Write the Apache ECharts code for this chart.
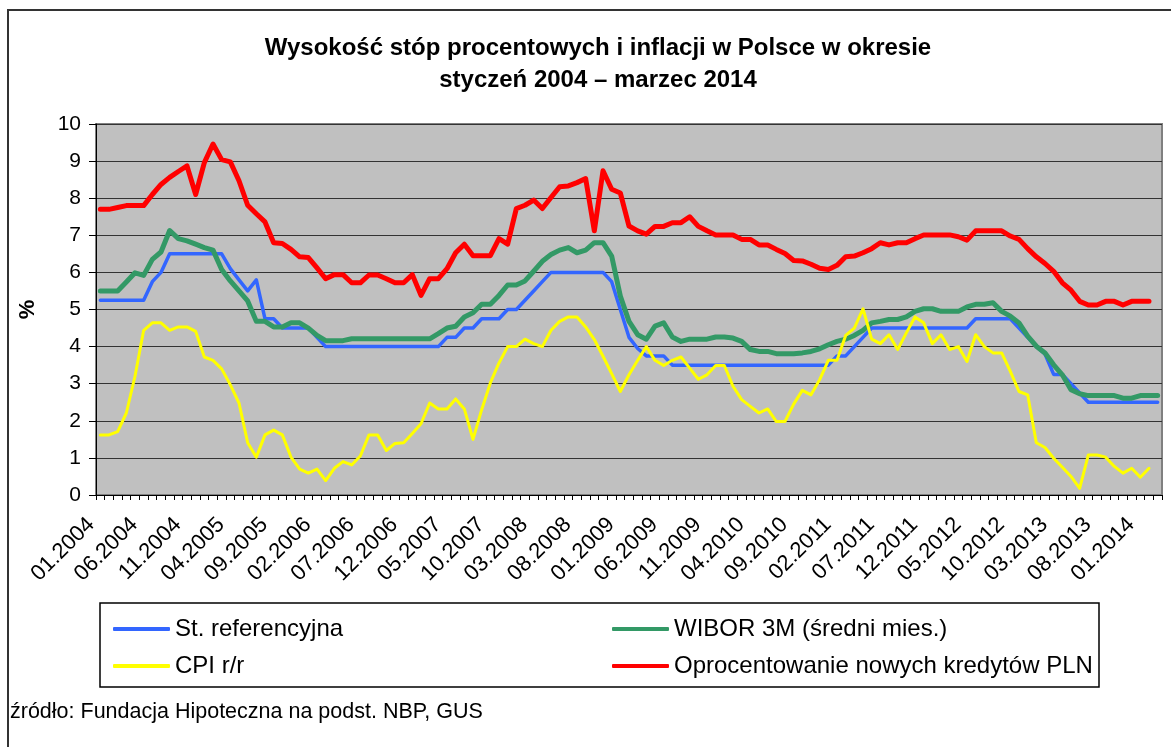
<!DOCTYPE html>
<html>
<head>
<meta charset="utf-8">
<script src="https://cdn.jsdelivr.net/npm/echarts@6/dist/echarts.min.js"></script>
<style>
html,body{margin:0;padding:0;background:#fff;}
#chart{width:1171px;height:747px;}
</style>
</head>
<body>
<div id="chart"></div>
<script>
// Monthly categories 01.2004 .. 03.2014
const startYear = 2004, monthsCount = 123;
const categories = [];
for (let k = 0; k < monthsCount; k++) {
  const m = (k % 12) + 1, y = startYear + Math.floor(k / 12);
  categories.push((m < 10 ? '0' + m : '' + m) + '.' + y);
}

const yTicks = [0,1,2,3,4,5,6,7,8,9,10];

// St. referencyjna
const refRate = [
  5.25,5.25,5.25,5.25,5.25,5.25,5.75,6.0,6.5,6.5,
  6.5,6.5,6.5,6.5,6.5,6.1,5.8,5.5,5.8,4.75,
  4.75,4.5,4.5,4.5,4.5,4.25,4.0,4.0,4.0,4.0,
  4.0,4.0,4.0,4.0,4.0,4.0,4.0,4.0,4.0,4.0,
  4.25,4.25,4.5,4.5,4.75,4.75,4.75,5.0,5.0,5.25,
  5.5,5.75,6.0,6.0,6.0,6.0,6.0,6.0,6.0,5.75,
  5.0,4.25,3.95,3.75,3.75,3.75,3.5,3.5,3.5,3.5,
  3.5,3.5,3.5,3.5,3.5,3.5,3.5,3.5,3.5,3.5,
  3.5,3.5,3.5,3.5,3.5,3.75,3.75,4.0,4.25,4.5,
  4.5,4.5,4.5,4.5,4.5,4.5,4.5,4.5,4.5,4.5,
  4.5,4.75,4.75,4.75,4.75,4.75,4.5,4.25,4.0,3.8,
  3.25,3.25,3.0,2.75,2.5,2.5,2.5,2.5,2.5,2.5,
  2.5,2.5,2.5
];

// WIBOR 3M (średni mies.)
const wibor3m = [
  5.5,5.5,5.5,5.74,5.99,5.92,6.35,6.55,7.13,6.91,
  6.85,6.76,6.67,6.6,6.08,5.77,5.5,5.23,4.68,4.68,
  4.53,4.53,4.64,4.64,4.5,4.3,4.16,4.16,4.16,4.21,
  4.21,4.21,4.21,4.21,4.21,4.21,4.21,4.21,4.21,4.35,
  4.5,4.55,4.8,4.91,5.14,5.14,5.38,5.66,5.66,5.77,
  6.03,6.3,6.48,6.6,6.67,6.53,6.6,6.8,6.8,6.44,
  5.36,4.68,4.32,4.2,4.55,4.64,4.26,4.14,4.2,4.2,
  4.2,4.26,4.26,4.23,4.14,3.92,3.87,3.87,3.81,3.81,
  3.81,3.83,3.87,3.94,4.05,4.14,4.2,4.3,4.44,4.64,
  4.68,4.73,4.73,4.8,4.95,5.02,5.02,4.95,4.95,4.95,
  5.07,5.14,5.14,5.18,4.95,4.82,4.64,4.28,4.01,3.83,
  3.51,3.24,2.84,2.73,2.68,2.68,2.68,2.68,2.61,2.61,
  2.68,2.68,2.68
];

// CPI r/r
const cpi = [
  1.62,1.62,1.71,2.21,3.2,4.44,4.64,4.64,4.44,4.53,
  4.53,4.41,3.72,3.63,3.4,2.97,2.48,1.41,1.02,1.62,
  1.75,1.62,1.02,0.7,0.59,0.7,0.39,0.72,0.9,0.81,
  1.05,1.62,1.62,1.2,1.39,1.41,1.66,1.92,2.48,2.32,
  2.32,2.59,2.32,1.5,2.3,3.02,3.56,4.0,4.0,4.2,
  4.08,4.0,4.44,4.68,4.8,4.8,4.53,4.19,3.74,3.27,
  2.79,3.24,3.63,4.0,3.63,3.49,3.63,3.72,3.42,3.12,
  3.24,3.49,3.49,2.93,2.57,2.39,2.21,2.32,1.98,1.98,
  2.45,2.82,2.7,3.11,3.63,3.63,4.3,4.5,5.02,4.2,
  4.08,4.32,3.92,4.37,4.8,4.64,4.08,4.32,3.92,4.0,
  3.6,4.32,4.0,3.83,3.83,3.33,2.79,2.7,1.41,1.28,
  0.99,0.75,0.5,0.18,1.08,1.08,1.02,0.77,0.59,0.72,
  0.48,0.72,null
];

// Oprocentowanie nowych kredytów PLN
const loanRate = [
  7.7,7.7,7.75,7.8,7.8,7.8,8.1,8.37,8.56,8.72,
  8.87,8.1,8.96,9.46,9.04,8.98,8.47,7.81,7.58,7.36,
  6.8,6.78,6.62,6.42,6.4,6.12,5.83,5.94,5.94,5.72,
  5.72,5.93,5.93,5.83,5.72,5.72,5.94,5.38,5.83,5.83,
  6.1,6.53,6.76,6.45,6.45,6.45,6.91,6.76,7.72,7.81,
  7.95,7.72,8.02,8.31,8.33,8.42,8.53,7.12,8.74,8.24,
  8.14,7.25,7.12,7.03,7.24,7.24,7.34,7.34,7.5,7.24,
  7.12,7.01,7.01,7.01,6.89,6.89,6.74,6.74,6.62,6.51,
  6.32,6.31,6.22,6.11,6.08,6.19,6.42,6.44,6.53,6.64,
  6.8,6.74,6.8,6.8,6.91,7.01,7.01,7.01,7.01,6.96,
  6.87,7.12,7.12,7.12,7.12,6.98,6.89,6.64,6.42,6.24,
  6.03,5.72,5.52,5.22,5.12,5.12,5.22,5.22,5.12,5.22,
  5.22,5.22,null
];

const seriesNames = ['St. referencyjna','WIBOR 3M (średni mies.)','CPI r/r','Oprocentowanie nowych kredytów PLN'];
const seriesColors = ['#3366FF','#339966','#FFFF00','#FF0000'];
const seriesWidths = [3.5,5,3,5];
const seriesData = [refRate, wibor3m, cpi, loanRate];

const FONT = '"Liberation Sans", Arial, sans-serif';

const chart = echarts.init(document.getElementById('chart'), null, {renderer:'canvas'});

const legendCommon = {
  orient: 'vertical',
  icon: 'roundRect',
  itemWidth: 57,
  itemHeight: 4,
  itemGap: 11,
  textStyle: {fontFamily: FONT, fontSize: 24, color: '#000', lineHeight: 26},
  selectedMode: false
};

chart.setOption({
  animation: false,
  backgroundColor: '#fff',
  title: {
    text: 'Wysokość stóp procentowych i inflacji w Polsce w okresie\nstyczeń 2004 – marzec 2014',
    left: 593,
    top: 27,
    textAlign: 'center',
    textStyle: {fontFamily: FONT, fontSize: 24, fontWeight: 'bold', color: '#000', lineHeight: 32}
  },
  legend: [
    Object.assign({left: 108, top: 611, data: [seriesNames[0], seriesNames[2]]}, legendCommon),
    Object.assign({left: 607, top: 611, data: [seriesNames[1], seriesNames[3]]}, legendCommon)
  ],
  grid: {
    left: 96, top: 124, width: 1066, height: 371,
    show: true, backgroundColor: '#C0C0C0', borderColor: '#808080', borderWidth: 2
  },
  xAxis: {
    type: 'category',
    data: categories,
    boundaryGap: true,
    axisLine: {lineStyle: {color: '#000', width: 1}},
    axisTick: {show: true, interval: 0, length: 5, lineStyle: {color: '#000'}},
    axisLabel: {interval: 4, rotate: 45, fontFamily: FONT, fontSize: 22, color: '#000', margin: 17, padding: [0, 13, 0, 0]},
    splitLine: {show: false}
  },
  yAxis: {
    type: 'value',
    min: yTicks[0], max: yTicks[yTicks.length - 1], interval: 1,
    name: '%',
    nameLocation: 'middle',
    nameRotate: 90,
    nameGap: 57,
    nameTextStyle: {fontFamily: FONT, fontSize: 22, fontWeight: 'bold', color: '#000'},
    axisLine: {show: true, lineStyle: {color: '#000', width: 1}},
    axisTick: {show: true, length: 7, lineStyle: {color: '#000'}},
    axisLabel: {fontFamily: FONT, fontSize: 21, color: '#000', margin: 15},
    splitLine: {show: true, lineStyle: {color: '#333', width: 1.2}}
  },
  series: seriesNames.map((n, i) => ({
    name: n,
    type: 'line',
    data: seriesData[i],
    symbol: 'none',
    color: seriesColors[i],
    lineStyle: {color: seriesColors[i], width: seriesWidths[i], cap: 'round', join: 'round'},
    z: 2 + i
  })),
  graphic: [
    {type: 'rect', shape: {x: 8, y: 10, width: 1300, height: 900}, style: {fill: 'none', stroke: '#333', lineWidth: 2}, silent: true, z: -10},
    {type: 'rect', shape: {x: 100, y: 603, width: 999, height: 84}, style: {fill: 'none', stroke: '#000', lineWidth: 1.5}, silent: true},
    {type: 'text', x: 10, y: 712, style: {text: 'źródło: Fundacja Hipoteczna na podst. NBP, GUS', fontFamily: FONT, fontSize: 21.5, fill: '#000', textVerticalAlign: 'middle'}, silent: true}
  ]
});
</script>
</body>
</html>
